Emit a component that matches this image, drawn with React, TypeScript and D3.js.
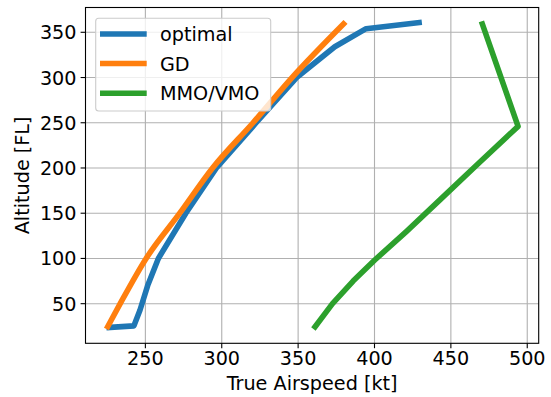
import * as d3 from 'd3';

// True airspeed [kt] vs altitude [FL]
const optimalTas = [224.5, 242.5, 246.5, 251.5, 258.5, 276.5, 296.5, 322.5, 349, 374, 394.5, 431];
const optimalFl = [23.5, 25.5, 43, 70, 100, 150, 200, 250, 300, 334, 354, 361];

const gdTas = [224.5, 233.5, 250.5, 272.5, 294, 320.5, 346, 381];
const gdFl = [22, 50, 100, 150, 200, 250, 300, 361.5];

const mmoTas = [360, 372.5, 386, 400, 421, 443, 468, 494, 470];
const mmoFl = [22, 50, 75, 98, 130, 165, 205, 246, 362];

const xTicks = [250, 300, 350, 400, 450, 500];
const yTicks = [50, 100, 150, 200, 250, 300, 350];

const seriesNames = ['optimal', 'GD', 'MMO/VMO'];
const seriesColors = ['#1f77b4', '#ff7f0e', '#2ca02c'];

const W = 551;
const H = 397;
const margin = { top: 7.5, right: 12.3, bottom: 53.7, left: 85.5 };
const font = 'DejaVu Sans, sans-serif';
const fs = 19.2;

export default function App() {
  const x = d3.scaleLinear().domain([210.8, 507.5]).range([margin.left, W - margin.right]);
  const y = d3.scaleLinear().domain([6.2, 377.4]).range([H - margin.bottom, margin.top]);

  const series = [
    optimalTas.map((v, i) => [v, optimalFl[i]] as [number, number]),
    gdTas.map((v, i) => [v, gdFl[i]] as [number, number]),
    mmoTas.map((v, i) => [v, mmoFl[i]] as [number, number]),
  ];

  const straight = d3
    .line<[number, number]>()
    .x((d) => x(d[0]))
    .y((d) => y(d[1]));
  // GD is a smooth curve
  const smooth = d3
    .line<[number, number]>()
    .x((d) => x(d[0]))
    .y((d) => y(d[1]))
    .curve(d3.curveMonotoneX);

  const x0 = margin.left;
  const x1 = W - margin.right;
  const y0 = margin.top;
  const y1 = H - margin.bottom;

  // legend
  const lg = { x: 95.7, y: 18.3, w: 175, h: 92.7 };
  const lgRows = [34, 63.5, 93.3];

  return (
    <svg
      width={W}
      height={H}
      style={{ position: 'absolute', left: 0, top: 0, background: '#fff' }}
      fontFamily={font}
    >
      {/* grid */}
      {xTicks.map((t) => (
        <line key={'gx' + t} x1={x(t)} x2={x(t)} y1={y0} y2={y1} stroke="#b0b0b0" strokeWidth={1.1} />
      ))}
      {yTicks.map((t) => (
        <line key={'gy' + t} x1={x0} x2={x1} y1={y(t)} y2={y(t)} stroke="#b0b0b0" strokeWidth={1.1} />
      ))}

      {/* series */}
      {series.map((s, i) => (
        <path
          key={seriesNames[i]}
          d={(i === 1 ? smooth(s) : straight(s)) || ''}
          fill="none"
          stroke={seriesColors[i]}
          strokeWidth={5.6}
          strokeLinejoin="round"
          strokeLinecap="butt"
        />
      ))}

      {/* frame */}
      <rect x={x0} y={y0} width={x1 - x0} height={y1 - y0} fill="none" stroke="#000" strokeWidth={1.1} />

      {/* x axis */}
      {xTicks.map((t) => (
        <g key={'tx' + t}>
          <line x1={x(t)} x2={x(t)} y1={y1} y2={y1 + 4.9} stroke="#000" strokeWidth={1.1} />
          <text x={x(t)} y={y1 + 22} textAnchor="middle" fontSize={fs} fill="#000">
            {t}
          </text>
        </g>
      ))}
      {/* y axis */}
      {yTicks.map((t) => (
        <g key={'ty' + t}>
          <line x1={x0 - 4.9} x2={x0} y1={y(t)} y2={y(t)} stroke="#000" strokeWidth={1.1} />
          <text x={x0 - 9} y={y(t) + 7} textAnchor="end" fontSize={fs} fill="#000">
            {t}
          </text>
        </g>
      ))}

      <text x={(x0 + x1) / 2} y={390} textAnchor="middle" fontSize={fs} fill="#000">
        True Airspeed [kt]
      </text>
      <text
        transform={`translate(29,${(y0 + y1) / 2}) rotate(-90)`}
        textAnchor="middle"
        fontSize={fs}
        fill="#000"
      >
        Altitude [FL]
      </text>

      {/* legend */}
      <rect
        x={lg.x}
        y={lg.y}
        width={lg.w}
        height={lg.h}
        rx={3}
        fill="#fff"
        fillOpacity={0.8}
        stroke="#cccccc"
        strokeWidth={1.1}
      />
      {seriesNames.map((n, i) => (
        <g key={'lg' + n}>
          <line x1={100} x2={146.7} y1={lgRows[i]} y2={lgRows[i]} stroke={seriesColors[i]} strokeWidth={5.6} />
          <text x={160} y={lgRows[i] + 7} fontSize={fs} fill="#000">
            {n}
          </text>
        </g>
      ))}
    </svg>
  );
}
